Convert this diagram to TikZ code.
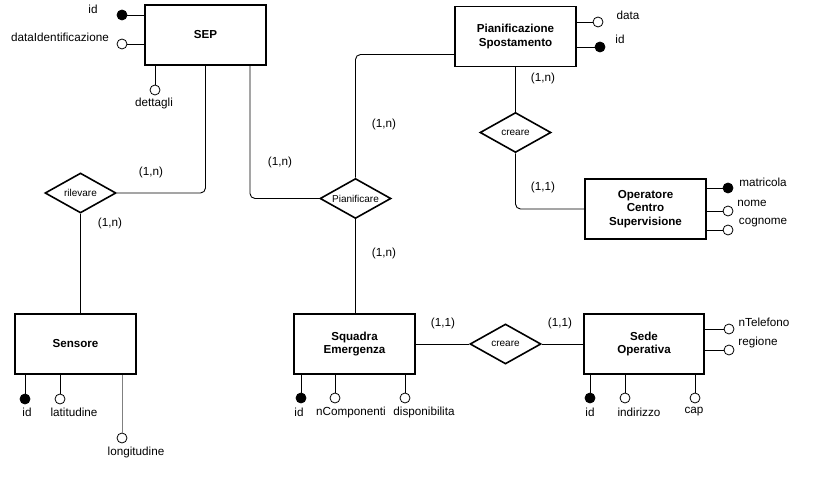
\documentclass[tikz,border=0pt]{standalone}
\usepackage{fontspec}
\setmainfont{Liberation Sans}
\usetikzlibrary{shapes.geometric}
\begin{document}
\begin{tikzpicture}[x=1pt,y=-1pt,
  entity/.style={draw, line width=1.8pt, minimum width=121pt, minimum height=60pt, align=center, inner sep=0pt,
    font=\fontsize{11.6}{13.5}\selectfont\bfseries},
  rel/.style={draw, diamond, line width=1.6pt, minimum width=71pt, minimum height=40pt, aspect=1.8, inner sep=0pt,
    font=\fontsize{10}{12}\selectfont},
  attr/.style={circle, draw, fill=white, minimum size=10pt, inner sep=0pt, line width=0.8pt},
  keyattr/.style={attr, fill=black},
  conn/.style={line width=0.9pt},
  lbl/.style={font=\fontsize{11.7}{14}\selectfont, inner sep=0pt}
]
\useasboundingbox (0,0) rectangle (822,478);

% entities
\node[entity] (SEP) at (205.5,35) {SEP};
\node[entity] (PS) at (515.5,36.5) {Pianificazione\\Spostamento};
\node[entity] (OCS) at (645.5,209) {Operatore\\Centro\\Supervisione};
\node[entity] (SEN) at (75.5,344) {Sensore};
\node[entity] (SQ) at (354.5,344) {Squadra\\Emergenza};
\node[entity, minimum width=120pt] (SO) at (644,344) {Sede\\Operativa};

% relationships
\node[rel] (ril) at (80.5,193) {rilevare};
\node[rel] (pia) at (355.5,198.5) {Pianificare};
\node[rel] (cr1) at (515.5,132.5) {creare};
\node[rel] (cr2) at (505.5,344) {creare};

% connectors
\draw[conn, rounded corners=5pt] (ril.east) -| (SEP.south);
\draw[conn, rounded corners=5pt] (pia.west) -| ([xshift=44.5pt]SEP.south);
\draw[conn, rounded corners=5pt] (pia.north) |- ([yshift=-18pt]PS.west);
\draw[conn] (ril.south) -- (ril.south |- SEN.north);
\draw[conn] (pia.south) -- (pia.south |- SQ.north);
\draw[conn] (PS.south) -- (cr1.north);
\draw[conn, rounded corners=5pt] (cr1.south) |- (OCS.west);
\draw[conn] (SQ.east) -- (cr2.west);
\draw[conn] (cr2.east) -- (SO.west);

% cardinalities
\node[lbl] (c1) at (151,172) {(1,n)};
\node[lbl] (c2) at (110,223) {(1,n)};
\node[lbl] (c3) at (280,162) {(1,n)};
\node[lbl] (c4) at (384,124) {(1,n)};
\node[lbl] (c5) at (384,253) {(1,n)};
\node[lbl] (c6) at (543,78) {(1,n)};
\node[lbl] (c7) at (543,187) {(1,1)};
\node[lbl] (c8) at (443,323) {(1,1)};
\node[lbl] (c9) at (560,323) {(1,1)};

% SEP attributes
\node[keyattr] (sepid) at (122,15) {};
\draw[conn] (sepid) -- (sepid -| SEP.west);
\node[lbl] at (93,9) {id};
\node[attr] (sepdata) at (122,44) {};
\draw[conn] (sepdata) -- (sepdata -| SEP.west);
\node[lbl] at (60,37) {dataIdentificazione};
\node[attr] (sepdet) at (155,90) {};
\draw[conn] (sepdet) -- (sepdet |- SEP.south);
\node[lbl] at (154,103) {dettagli};

% PS attributes
\node[attr] (psdata) at (598,22) {};
\draw[conn] (psdata) -- (psdata -| PS.east);
\node[lbl] at (628,15) {data};
\node[keyattr] (psid) at (600,47) {};
\draw[conn] (psid) -- (psid -| PS.east);
\node[lbl] at (620,39) {id};

% OCS attributes
\node[keyattr] (om) at (728,188) {};
\draw[conn] (om) -- (om -| OCS.east);
\node[lbl] at (763,182) {matricola};
\node[attr] (on) at (728,211) {};
\draw[conn] (on) -- (on -| OCS.east);
\node[lbl] at (752,203) {nome};
\node[attr] (oc) at (728,230) {};
\draw[conn] (oc) -- (oc -| OCS.east);
\node[lbl] at (763,223) {cognome};

% Sensore attributes
\node[keyattr] (sid) at (25,399) {};
\draw[conn] (sid) -- (sid |- SEN.south);
\node[lbl] at (27,412) {id};
\node[attr] (slat) at (60,399) {};
\draw[conn] (slat) -- (slat |- SEN.south);
\node[lbl] at (74,412) {latitudine};
\node[attr] (slon) at (122,438) {};
\draw[conn, draw=gray] (slon) -- (slon |- SEN.south);
\node[lbl] at (136,452) {longitudine};

% Squadra attributes
\node[keyattr] (qid) at (301,398) {};
\draw[conn] (qid) -- (qid |- SQ.south);
\node[lbl] at (299,412) {id};
\node[attr] (qn) at (335,398) {};
\draw[conn] (qn) -- (qn |- SQ.south);
\node[lbl] at (351,412) {nComponenti};
\node[attr] (qd) at (405,398) {};
\draw[conn] (qd) -- (qd |- SQ.south);
\node[lbl] at (424,412) {disponibilita};

% Sede attributes
\node[attr] (st) at (729,329) {};
\draw[conn] (st) -- (st -| SO.east);
\node[lbl] at (764,322) {nTelefono};
\node[attr] (sr) at (729,350) {};
\draw[conn] (sr) -- (sr -| SO.east);
\node[lbl] at (758,342) {regione};
\node[keyattr] (oid) at (590,398) {};
\draw[conn] (oid) -- (oid |- SO.south);
\node[lbl] at (590,412) {id};
\node[attr] (oi) at (625,398) {};
\draw[conn] (oi) -- (oi |- SO.south);
\node[lbl] at (639,412) {indirizzo};
\node[attr] (ocap) at (695,398) {};
\draw[conn] (ocap) -- (ocap |- SO.south);
\node[lbl] at (694,412) {cap};
\end{tikzpicture}
\end{document}
